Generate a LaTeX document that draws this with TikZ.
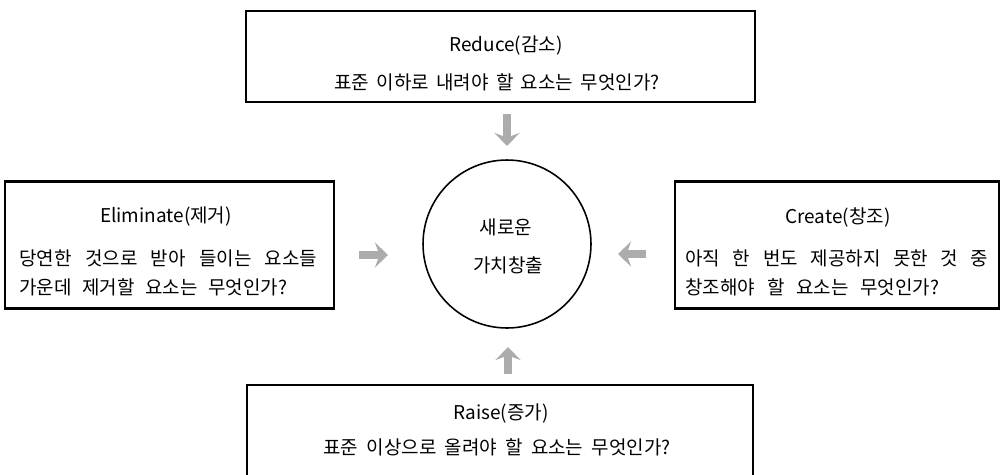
\documentclass[tikz,border=0pt]{standalone}
\usepackage{fontspec}
\newfontfamily\kr{Noto Sans CJK KR}
\usetikzlibrary{arrows.meta}
\newcommand\fitline[2]{\makebox[#1][s]{\spaceskip=.25em plus 3em minus .22em\relax #2}}
\begin{document}
\begin{tikzpicture}[x=0.02cm,y=-0.02cm,
  box/.style={draw=black,line width=1.2pt,fill=white,inner sep=0pt},
  ring/.style={circle,draw=black,line width=0.9pt,fill=white,inner sep=0pt,minimum size=3.36cm},
  txt/.style={inner sep=0pt,font=\kr\fontsize{10.8pt}{13pt}\selectfont},
  sidetxt/.style={txt,anchor=west},
  flow/.style={line width=0.16cm,draw=gray!65,-{Stealth[width=0.5cm,length=0.26cm,inset=0.09cm]}}]
\path[use as bounding box,clip] (0,0) rectangle (1000,474);
\fill[white] (0,0) rectangle (1000,474);
% boxes
\node[box,minimum width=10.18cm,minimum height=1.82cm] (reduce) at (500.5,56.5) {};
\node[box,minimum width=6.58cm,minimum height=2.54cm] (elim) at (169.5,245) {};
\node[box,minimum width=6.48cm,minimum height=2.54cm] (create) at (837,245) {};
\node[box,minimum width=10.12cm,minimum height=2.3cm] (raise) at (500,442.5) {};
\node[ring] (core) at (507,244) {};
% texts
\node[txt] (reduceT) at (506,46) {Reduce(감소)};
\node[txt] (reduceL) at (497,82) {\fitline{6.5cm}{표준 이하로 내려야 할 요소는 무엇인가?}};
\node[txt] (elimT) at (166,217) {Eliminate(제거)};
\node[sidetxt] (elimL1) at (19,258) {\fitline{5.96cm}{당연한 것으로 받아 들이는 요소들}};
\node[sidetxt] (elimL2) at (19,287) {\fitline{5.36cm}{가운데 제거할 요소는 무엇인가?}};
\node[txt] (createT) at (838,217) {Create(창조)};
\node[sidetxt] (createL1) at (685,258) {\fitline{6.06cm}{아직 한 번도 제공하지 못한 것 중}};
\node[sidetxt] (createL2) at (685,287) {\fitline{5.08cm}{창조해야 할 요소는 무엇인가?}};
\node[txt] (raiseT) at (501,414) {Raise(증가)};
\node[txt] (raiseL) at (497,447) {\fitline{6.94cm}{표준 이상으로 올려야 할 요소는 무엇인가?}};
\node[txt] (coreA) at (506,227) {새로운};
\node[txt] (coreB) at (508,265) {가치창출};
% arrows
\coordinate (dT) at (507,114); \coordinate (dB) at (507,146);
\coordinate (uB) at (508,374); \coordinate (uT) at (508,347);
\coordinate (rL) at (359,255); \coordinate (rR) at (388,255);
\coordinate (lR) at (646,254); \coordinate (lL) at (618,254);
\draw[flow] (dT) -- (dB);
\draw[flow] (uB) -- (uT);
\draw[flow] (rL) -- (rR);
\draw[flow] (lR) -- (lL);
\end{tikzpicture}
\end{document}
